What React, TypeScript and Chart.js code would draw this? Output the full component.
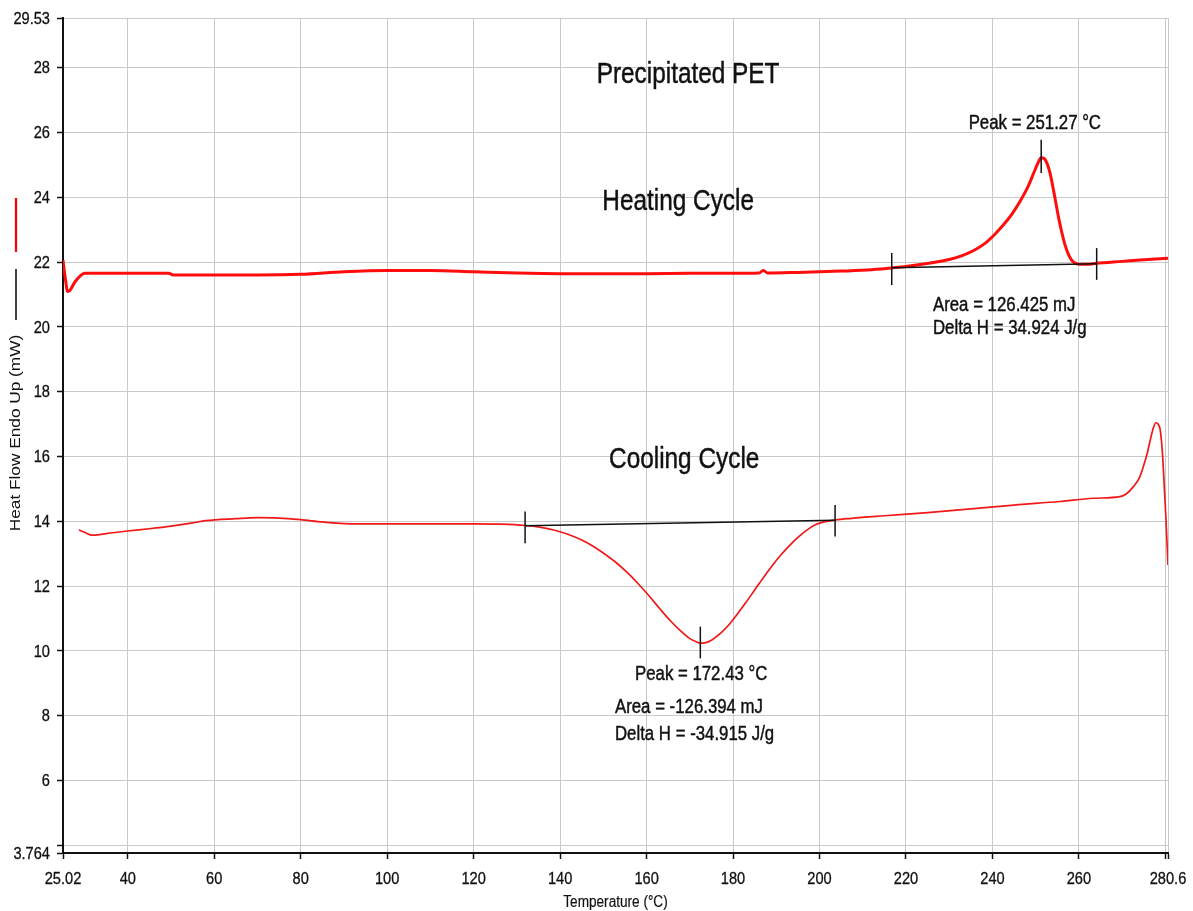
import React, { useEffect, useRef } from "react";
import { Chart, registerables } from "chart.js";

Chart.register(...registerables);

// Temperature (°C) / heat flow (mW) samples of the heating scan
const heatingT = [
  25.02, 25.5, 26.1, 26.6, 27.8, 30.1, 40, 49.5, 50.5, 70, 80, 90, 100, 110, 120, 130, 140, 150,
  160, 170, 180, 186, 187, 188, 195, 205, 212, 217, 222, 226, 230, 233, 236, 238.5, 240.5, 242.5,
  244.5, 246.5, 248.3, 249.7, 250.6, 251.27, 251.9, 252.6, 253.3, 254, 254.7, 255.4, 256.1, 256.8,
  257.5, 258.3, 259.2, 260.2, 262, 264, 270, 275, 280.6,
];
const heatingQ = [
  22.06, 21.55, 21.09, 21.12, 21.39, 21.65, 21.65, 21.65, 21.6, 21.6, 21.62, 21.7, 21.74, 21.74,
  21.7, 21.66, 21.64, 21.64, 21.64, 21.65, 21.65, 21.66, 21.74, 21.66, 21.68, 21.72, 21.76, 21.82,
  21.9, 21.98, 22.08, 22.2, 22.38, 22.6, 22.85, 23.14, 23.48, 23.9, 24.35, 24.8, 25.08, 25.22,
  25.2, 25.05, 24.75, 24.3, 23.8, 23.3, 22.88, 22.52, 22.26, 22.06, 21.96, 21.93, 21.93, 21.96,
  22.02, 22.07, 22.12,
];

// Temperature (°C) / heat flow (mW) samples of the cooling scan
const coolingT = [
  28.7, 30, 31.8, 33, 35, 40, 45, 50, 55, 58, 65, 70, 75, 80, 85, 90, 100, 110, 120, 126.3, 132,
  135.6, 138.5, 141.8, 145, 148, 150.5, 153, 155.5, 158, 160.5, 163, 165.5, 168, 170, 171.5, 172.43,
  173.5, 175, 177, 179, 181, 183, 185, 187, 189, 191, 193, 195, 197, 199, 201, 203.6, 207.4, 215,
  225, 235, 245, 255.6, 263.3, 269.5, 271, 272.6, 274, 274.9, 275.8, 276.5, 277.2, 277.8, 278.3,
  278.8, 279.2, 279.5, 280.1, 280.6,
];
const coolingQ = [
  13.73, 13.66, 13.57, 13.58, 13.62, 13.7, 13.77, 13.85, 13.95, 14.02, 14.08, 14.11, 14.1, 14.05,
  13.98, 13.93, 13.92, 13.92, 13.92, 13.91, 13.87, 13.81, 13.73, 13.6, 13.42, 13.2, 12.97, 12.72,
  12.42, 12.08, 11.71, 11.31, 10.93, 10.6, 10.38, 10.28, 10.24, 10.25, 10.33, 10.53, 10.8, 11.14,
  11.5, 11.88, 12.26, 12.62, 12.95, 13.24, 13.5, 13.72, 13.89, 13.98, 14.04, 14.09, 14.17, 14.27,
  14.38, 14.5, 14.61, 14.71, 14.76, 14.85, 15.07, 15.35, 15.69, 16.1, 16.51, 16.88, 17.04, 17.0,
  16.82, 16.3, 15.69, 14.15, 12.65,
];

// Integration baselines (start / end of each peak)
const heatBaseT = [216.7, 264.1];
const heatBaseQ = [21.82, 21.95];
const coolBaseT = [131.9, 203.6];
const coolBaseQ = [13.86, 14.03];

// Vertical limit / peak markers: temperature, lower and upper heat flow
const markerT = [216.7, 251.27, 264.1, 131.9, 172.43, 203.6];
const markerLo = [21.29, 24.75, 21.45, 13.32, 9.77, 13.53];
const markerHi = [22.28, 25.77, 22.43, 14.3, 10.75, 14.5];

// Axis ticks
const xGridValues = [25.02, 40, 60, 80, 100, 120, 140, 160, 180, 200, 220, 240, 260, 280, 280.6];
const xLabelValues = [25.02, 40, 60, 80, 100, 120, 140, 160, 180, 200, 220, 240, 260, 280.6];
const yGridValues = [3.764, 4, 6, 8, 10, 12, 14, 16, 18, 20, 22, 24, 26, 28, 29.53];
const yLabelValues = [3.764, 6, 8, 10, 12, 14, 16, 18, 20, 22, 24, 26, 28, 29.53];

const X_MIN = 25.02;
const X_MAX = 280.6;
const Y_MIN = 3.764;
const Y_MAX = 29.53;

// Text notes placed in data coordinates (t = °C, q = mW, at text baseline)
const notes = [
  { text: "Precipitated PET", t: 169.6, q: 27.52, size: 29, align: "center" },
  { text: "Heating Cycle", t: 167.3, q: 23.61, size: 29, align: "center" },
  { text: "Cooling Cycle", t: 168.7, q: 15.65, size: 29, align: "center" },
  { text: "Peak = 251.27 °C", t: 249.8, q: 26.1, size: 20, align: "center" },
  { text: "Area = 126.425 mJ", t: 226.24, q: 20.49, size: 20, align: "left" },
  { text: "Delta H = 34.924 J/g", t: 226.24, q: 19.78, size: 20, align: "left" },
  { text: "Peak = 172.43 °C", t: 157.32, q: 9.1, size: 20, align: "left" },
  { text: "Area = -126.394 mJ", t: 152.69, q: 8.09, size: 20, align: "left" },
  { text: "Delta H = -34.915 J/g", t: 152.69, q: 7.25, size: 20, align: "left" },
];

const FONT = "'Liberation Sans', Arial, sans-serif";
const TEXT = "#111";
const SQUEEZE = 0.84;

// Draws horizontally condensed text; a thin outline keeps the stems from looking too light
function squeezedText(
  ctx: CanvasRenderingContext2D,
  text: string,
  x: number,
  y: number,
  size: number,
  align: CanvasTextAlign,
  baseline: CanvasTextBaseline = "alphabetic",
  sx = SQUEEZE,
  outline = 0.45
) {
  ctx.save();
  ctx.translate(x, y);
  ctx.scale(sx, 1);
  ctx.font = `${size}px ${FONT}`;
  ctx.fillStyle = TEXT;
  ctx.strokeStyle = TEXT;
  ctx.lineWidth = outline;
  ctx.lineJoin = "round";
  ctx.textAlign = align;
  ctx.textBaseline = baseline;
  ctx.fillText(text, 0, 0);
  if (outline > 0) ctx.strokeText(text, 0, 0);
  ctx.restore();
}

const textPlugin = {
  id: "dscText",
  afterDraw(chart: any) {
    const { ctx, chartArea } = chart;
    const xs = chart.scales.x;
    const ys = chart.scales.y;

    // tick labels
    yLabelValues.forEach((v) => {
      squeezedText(ctx, String(v), chartArea.left - 13, ys.getPixelForValue(v) + 1, 17, "right", "middle", 0.86, 0.3);
    });
    xLabelValues.forEach((v) => {
      squeezedText(ctx, String(v), xs.getPixelForValue(v), chartArea.bottom + 31, 17, "center", "alphabetic", 0.86, 0.3);
    });

    // x-axis title
    squeezedText(ctx, "Temperature (°C)", (chartArea.left + chartArea.right) / 2, chartArea.bottom + 54, 16, "center", "alphabetic", 0.85, 0.2);

    // y-axis title with series keys
    ctx.save();
    ctx.translate(20, 433);
    ctx.rotate(-Math.PI / 2);
    ctx.scale(1.15, 1);
    ctx.font = `15px ${FONT}`;
    ctx.fillStyle = TEXT;
    ctx.textAlign = "center";
    ctx.textBaseline = "alphabetic";
    ctx.fillText("Heat Flow Endo Up (mW)", 0, 0);
    ctx.restore();

    ctx.save();
    ctx.lineWidth = 1.5;
    ctx.strokeStyle = "#000";
    ctx.beginPath();
    ctx.moveTo(16, 269);
    ctx.lineTo(16, 320);
    ctx.stroke();
    ctx.lineWidth = 2.2;
    ctx.strokeStyle = "#ff0000";
    ctx.beginPath();
    ctx.moveTo(16, 198);
    ctx.lineTo(16, 252);
    ctx.stroke();
    ctx.restore();

    // notes
    notes.forEach((n) => {
      squeezedText(ctx, n.text, xs.getPixelForValue(n.t), ys.getPixelForValue(n.q), n.size, n.align as CanvasTextAlign);
    });
  },
};

function pairs(ts: number[], qs: number[]) {
  return ts.map((t, i) => ({ x: t, y: qs[i] }));
}

export default function App() {
  const ref = useRef<HTMLCanvasElement | null>(null);

  useEffect(() => {
    document.body.style.margin = "0";
    const canvas = ref.current;
    if (!canvas) return;

    const markerSets = markerT.map((t, i) => ({
      data: [
        { x: t, y: markerLo[i] },
        { x: t, y: markerHi[i] },
      ],
      borderColor: "#111",
      borderWidth: 1.5,
      pointRadius: 0,
      fill: false,
    }));

    const chart = new Chart(canvas, {
      type: "line",
      data: {
        datasets: [
          ...markerSets,
          {
            data: pairs(heatBaseT, heatBaseQ),
            borderColor: "#111",
            borderWidth: 1.5,
            pointRadius: 0,
            fill: false,
          },
          {
            data: pairs(coolBaseT, coolBaseQ),
            borderColor: "#111",
            borderWidth: 1.5,
            pointRadius: 0,
            fill: false,
          },
          {
            data: pairs(heatingT, heatingQ),
            borderColor: "#ff0d0d",
            borderWidth: 3,
            pointRadius: 0,
            fill: false,
            cubicInterpolationMode: "monotone",
          },
          {
            data: pairs(coolingT, coolingQ),
            borderColor: "#f01818",
            borderWidth: 1.7,
            pointRadius: 0,
            fill: false,
            cubicInterpolationMode: "monotone",
          },
        ],
      },
      options: {
        animation: false,
        responsive: false,
        events: [],
        layout: { padding: { top: 18, right: 25, left: 0, bottom: 0 } },
        plugins: {
          legend: { display: false },
          tooltip: { enabled: false },
          title: { display: false },
        },
        scales: {
          x: {
            type: "linear",
            min: X_MIN,
            max: X_MAX,
            afterBuildTicks: (s: any) => {
              s.ticks = xGridValues.map((v) => ({ value: v }));
            },
            afterFit: (s: any) => {
              s.height = 58;
            },
            ticks: { display: false },
            grid: { color: "#c9c9c9", lineWidth: 1, tickColor: "#111", tickLength: 6, tickWidth: 1.5 },
            border: { color: "#111", width: 2 },
          },
          y: {
            type: "linear",
            min: Y_MIN,
            max: Y_MAX,
            afterBuildTicks: (s: any) => {
              s.ticks = yGridValues.map((v) => ({ value: v }));
            },
            afterFit: (s: any) => {
              s.width = 63;
            },
            ticks: { display: false },
            grid: { color: "#c9c9c9", lineWidth: 1, tickColor: "#111", tickLength: 6, tickWidth: 1.5 },
            border: { color: "#111", width: 2 },
          },
        },
      },
      plugins: [textPlugin],
    } as any);

    return () => chart.destroy();
  }, []);

  return (
    <div style={{ width: 1193, height: 911, background: "#fff" }}>
      <canvas ref={ref} width={1193} height={911} style={{ display: "block" }} />
    </div>
  );
}
